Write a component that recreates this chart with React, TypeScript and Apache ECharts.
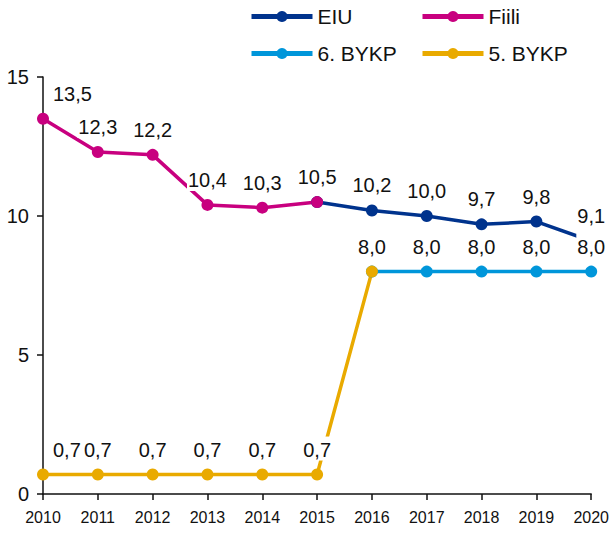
import React, { useEffect, useRef } from "react";
import * as echarts from "echarts";

const years = ["2010", "2011", "2012", "2013", "2014", "2015", "2016", "2017", "2018", "2019", "2020"];
const eiu: (number | string)[] = ["-", "-", "-", "-", "-", 10.5, 10.2, 10.0, 9.7, 9.8, 9.1];
const fiili: (number | string)[] = [13.5, 12.3, 12.2, 10.4, 10.3, 10.5, "-", "-", "-", "-", "-"];
const bykp6: (number | string)[] = ["-", "-", "-", "-", "-", "-", 8.0, 8.0, 8.0, 8.0, 8.0];
const bykp5: (number | string)[] = [0.7, 0.7, 0.7, 0.7, 0.7, 0.7, 8.0, "-", "-", "-", "-"];
const yTicks = [0, 5, 10, 15];

const FONT = "'Liberation Sans', Arial, sans-serif";

function buildData(vals: (number | string)[]) {
  return vals.map((v, i) => {
    if (v === "-") return "-";
    if (i === 0) return { value: v, label: { align: "left", offset: [9, 0] } };
    return { value: v };
  });
}

function makeSeries(name: string, vals: (number | string)[], color: string) {
  return {
    name,
    type: "line",
    data: buildData(vals),
    color,
    symbol: "circle",
    symbolSize: 12,
    lineStyle: { width: 3.5, color },
    itemStyle: { color },
    label: {
      show: true,
      position: "top",
      distance: 8,
      fontFamily: FONT,
      fontSize: 20,
      color: "#111",
      backgroundColor: "#fff",
      padding: [3, 1, 1, 1],
      formatter: (p: any) => Number(p.value).toFixed(1).replace(".", ","),
    },
  };
}

export default function App() {
  const ref = useRef<HTMLDivElement>(null);
  useEffect(() => {
    if (!ref.current) return;
    const chart = echarts.init(ref.current, null, { renderer: "svg" });
    const legendBase = {
      orient: "horizontal",
      itemWidth: 61,
      itemHeight: 14,
      itemGap: 8,
      textStyle: { fontFamily: FONT, fontSize: 21, color: "#111" },
      lineStyle: { width: 5 },
      itemStyle: {},
    };
    chart.setOption({
      animation: false,
      legend: [
        { ...legendBase, data: ["EIU"], left: 244, top: 1 },
        { ...legendBase, data: ["Fiili"], left: 415, top: 1 },
        { ...legendBase, data: ["6. BYKP"], left: 244, top: 38 },
        { ...legendBase, data: ["5. BYKP"], left: 415, top: 38 },
      ],
      grid: { left: 43, right: 18, top: 77, bottom: 39, containLabel: false },
      xAxis: {
        type: "category",
        data: years,
        boundaryGap: false,
        axisLine: { lineStyle: { color: "#111", width: 1.5 } },
        axisTick: { show: true, length: 6, lineStyle: { color: "#111", width: 1.5 } },
        axisLabel: { fontFamily: FONT, fontSize: 16, color: "#111", margin: 15, interval: 0 },
        splitLine: { show: false },
      },
      yAxis: {
        type: "value",
        min: 0,
        max: 15,
        interval: 5,
        axisLine: { show: true, lineStyle: { color: "#111", width: 1.5 } },
        axisTick: { show: true, length: 6, lineStyle: { color: "#111", width: 1.5 } },
        axisLabel: {
          fontFamily: FONT,
          fontSize: 20,
          color: "#111",
          margin: 14,
          formatter: (v: number) => (yTicks.includes(v) ? String(v) : ""),
        },
        splitLine: { show: false },
      },
      series: [
        makeSeries("EIU", eiu, "#00338D"),
        makeSeries("Fiili", fiili, "#C8007F"),
        makeSeries("6. BYKP", bykp6, "#0096DA"),
        makeSeries("5. BYKP", bykp5, "#E9AA00"),
      ],
    });
    return () => chart.dispose();
  }, []);
  return <div ref={ref} style={{ width: 612, height: 533, position: "absolute", left: 0, top: 0 }} />;
}
